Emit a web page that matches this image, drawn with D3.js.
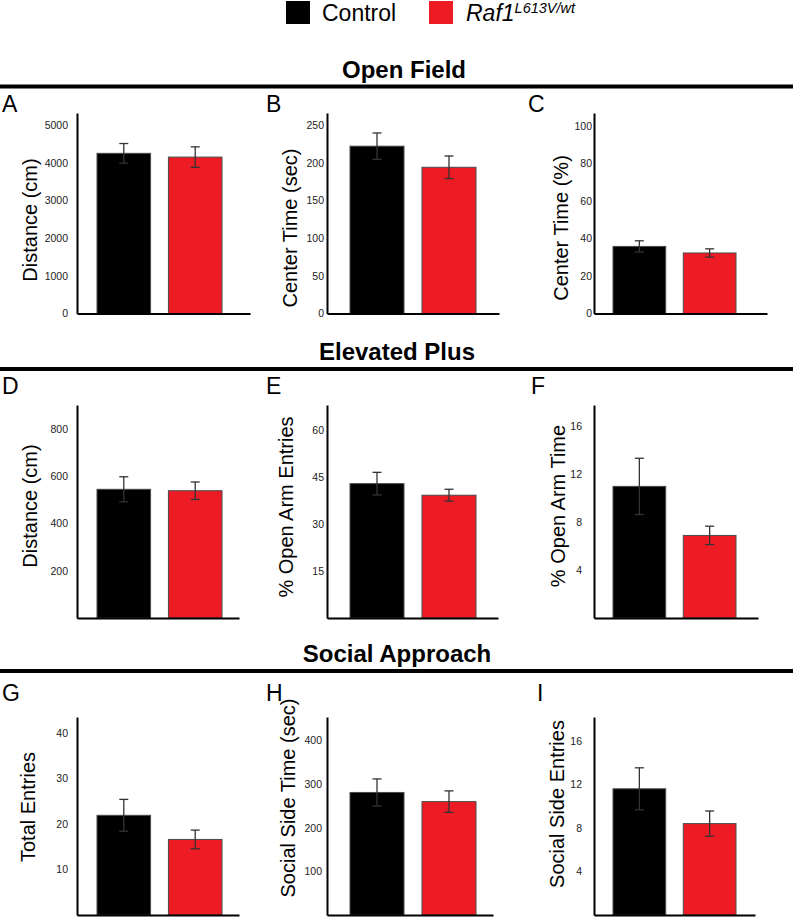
<!DOCTYPE html>
<html>
<head>
<meta charset="utf-8">
<script src="https://cdn.jsdelivr.net/npm/d3@7"></script>
<style>
body { margin: 0; background: #fff; }
svg { display: block; font-family: Arial, "Liberation Sans", Helvetica, sans-serif; }
</style>
</head>
<body>
<script>
// values (mean and SEM per group)
let groups = ["Control", "Raf1"];
let sections = ["Open Field", "Elevated Plus", "Social Approach"];
let panelLetters = ["A", "B", "C", "D", "E", "F", "G", "H", "I"];
let yTitles = ["Distance (cm)", "Center Time (sec)", "Center Time (%)",
               "Distance (cm)", "% Open Arm Entries", "% Open Arm Time",
               "Total Entries", "Social Side Time (sec)", "Social Side Entries"];
let controlMeans = [4250, 222, 35.8, 545, 42.9, 11.0, 21.9, 281, 11.6];
let controlSems  = [260, 17.5, 3.0, 53, 3.6, 2.35, 3.5, 31, 1.93];
let raf1Means    = [4150, 194, 32.3, 539, 39.2, 6.9, 16.6, 260, 8.4];
let raf1Sems     = [272, 15, 2.2, 37, 1.9, 0.77, 2.05, 24.6, 1.16];
let yMaxes = [5320, 266, 107, 902, 68, 17.8, 43.5, 454, 18.2];
let yTicks = [
    [0, 1000, 2000, 3000, 4000, 5000],
    [0, 50, 100, 150, 200, 250],
    [0, 20, 40, 60, 80, 100],
    [200, 400, 600, 800],
    [15, 30, 45, 60],
    [4, 8, 12, 16],
    [10, 20, 30, 40],
    [100, 200, 300, 400],
    [4, 8, 12, 16]
];

let colors = {Control: "#000000", Raf1: "#ed1c24"};

// layout
let width = 793, height = 917;
let colAxisX = [77, 327, 594];
let colBars = [[97, 222], [350, 476], [613, 736]];
let axisEnd = [250, 499, 767, 239, 498, 758, 239, 493, 755];
let rowTop = [113, 405, 717],
    rowBase = [313.5, 618, 915];
let ruleY = [86.5, 369, 671];
let sectionX = [404, 397, 397];
let tickPad = [9, 3, 2, 9, 3, 12, 9, 5, 12];
let titleDx = [-47, -37, -33, -47, -41, -36, -49, -39, -37];
let titleY = [220, 228, 228, 506, 507, 506, 807, 798, 804];
let letterX = [2, 266, 528, 2, 266, 531, 2, 266, 537];
let letterY = [112, 394, 701];

let svg = d3.select("body").append("svg")
    .attr("width", width)
    .attr("height", height);

// legend
let legend = svg.append("g");
let legendX = [286, 429];
groups.forEach((g, i) => {
    legend.append("rect")
        .attr("x", legendX[i]).attr("y", 1)
        .attr("width", 24).attr("height", 23)
        .attr("fill", colors[g]);
});
legend.append("text")
    .attr("x", 322).attr("y", 21)
    .style("font-size", "23px")
    .text(groups[0]);
let rafText = legend.append("text")
    .attr("x", 466).attr("y", 21)
    .style("font-size", "23px")
    .style("font-style", "italic");
rafText.append("tspan").text(groups[1]);
rafText.append("tspan")
    .attr("dy", -8)
    .style("font-size", "14.5px")
    .text("L613V/wt");

// section headers + rules
sections.forEach((s, i) => {
    svg.append("text")
        .attr("x", sectionX[i]).attr("y", ruleY[i] - 9)
        .attr("text-anchor", "middle")
        .style("font-size", "24px")
        .style("font-weight", "bold")
        .text(s);
    svg.append("line")
        .attr("x1", 0).attr("x2", width)
        .attr("y1", ruleY[i]).attr("y2", ruleY[i])
        .attr("stroke", "#000")
        .attr("stroke-width", 4);
});

// panels
panelLetters.forEach((letter, i) => {
    let col = i % 3, row = Math.floor(i / 3);
    let ax = colAxisX[col];
    let g = svg.append("g");

    let yScale = d3.scaleLinear()
        .domain([0, yMaxes[i]])
        .range([rowBase[row], rowTop[row]]);

    let xScale = d3.scaleBand()
        .domain(groups)
        .range(colBars[col])
        .paddingInner(0.25);

    let bars = groups.map((grp, k) => ({
        group: grp,
        mean: k === 0 ? controlMeans[i] : raf1Means[i],
        sem: k === 0 ? controlSems[i] : raf1Sems[i]
    }));

    g.selectAll("rect.bar")
        .data(bars)
        .join("rect")
        .attr("class", "bar")
        .attr("x", d => xScale(d.group))
        .attr("width", xScale.bandwidth())
        .attr("y", d => yScale(d.mean))
        .attr("height", d => yScale(0) - yScale(d.mean))
        .attr("fill", d => colors[d.group])
        .attr("stroke", "#4a4a4a")
        .attr("stroke-width", 1);

    // error bars
    let eb = g.selectAll("g.err")
        .data(bars)
        .join("g")
        .attr("class", "err")
        .attr("stroke", "#333")
        .attr("stroke-width", 1.3);
    let cx = d => xScale(d.group) + xScale.bandwidth() / 2;
    eb.append("line")
        .attr("x1", cx).attr("x2", cx)
        .attr("y1", d => yScale(d.mean - d.sem))
        .attr("y2", d => yScale(d.mean + d.sem));
    eb.append("line")
        .attr("x1", d => cx(d) - 4.5).attr("x2", d => cx(d) + 4.5)
        .attr("y1", d => yScale(d.mean + d.sem))
        .attr("y2", d => yScale(d.mean + d.sem));
    eb.append("line")
        .attr("x1", d => cx(d) - 4.5).attr("x2", d => cx(d) + 4.5)
        .attr("y1", d => yScale(d.mean - d.sem))
        .attr("y2", d => yScale(d.mean - d.sem));

    // y axis
    let yAxis = d3.axisLeft(yScale)
        .tickValues(yTicks[i])
        .tickSize(0)
        .tickPadding(tickPad[i])
        .tickFormat(d3.format("d"));
    let yG = g.append("g")
        .attr("transform", `translate(${ax},0)`)
        .call(yAxis);
    yG.select(".domain").attr("stroke", "#000").attr("stroke-width", 2);
    yG.selectAll("text")
        .style("font-size", "10.5px")
        .attr("fill", "#222");

    // x axis (line only)
    let xAxisScale = d3.scaleLinear().range([ax, axisEnd[i]]);
    let xG = g.append("g")
        .attr("transform", `translate(0,${rowBase[row]})`)
        .call(d3.axisBottom(xAxisScale).tickValues([]).tickSizeOuter(0));
    xG.select(".domain").attr("stroke", "#000").attr("stroke-width", 2);

    // y title
    g.append("text")
        .attr("transform", `translate(${ax + titleDx[i]},${titleY[i]}) rotate(-90)`)
        .attr("text-anchor", "middle")
        .attr("dy", "0.35em")
        .style("font-size", "20px")
        .text(yTitles[i]);

    // panel letter
    g.append("text")
        .attr("x", letterX[i]).attr("y", letterY[row])
        .style("font-size", "23px")
        .text(letter);
});
</script>
</body>
</html>
